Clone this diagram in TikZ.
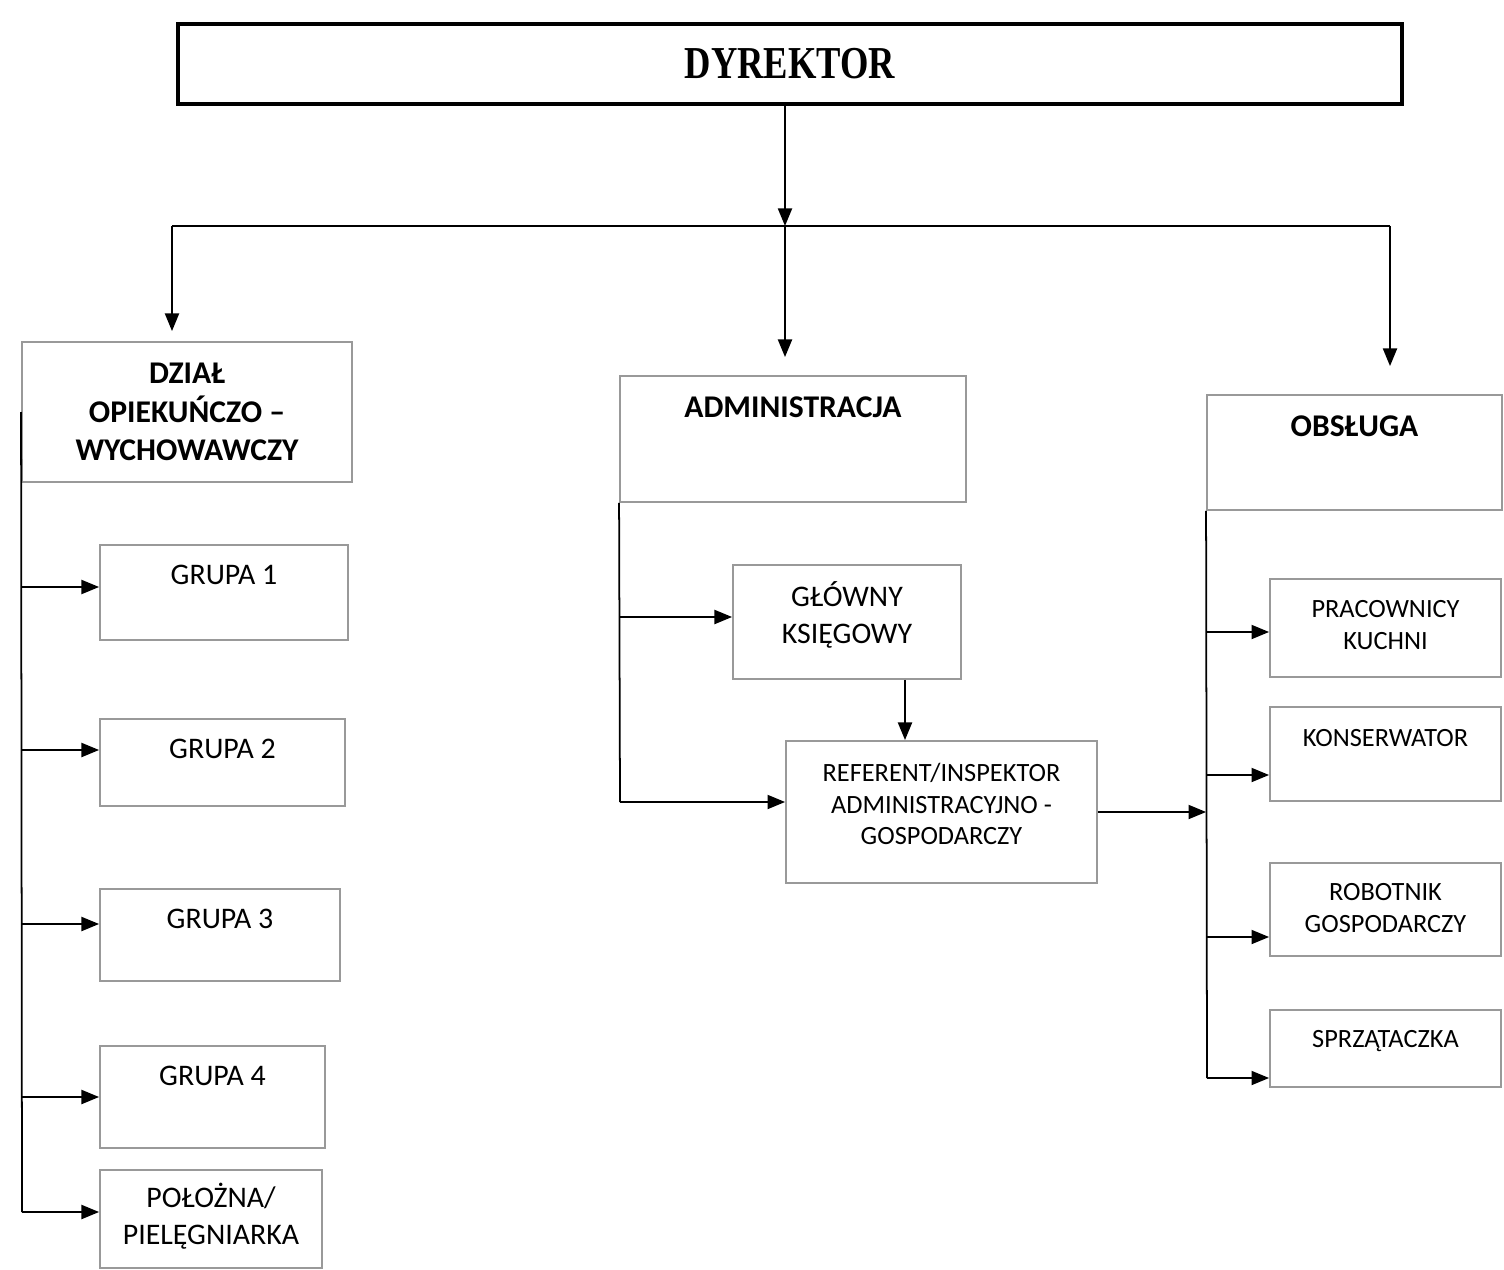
\documentclass[tikz,border=0pt]{standalone}
\usepackage{fontspec}
\setmainfont{Carlito}
\newfontfamily\serifbold{Liberation Serif}
\usepackage{graphicx}
\usepackage{tikz}
\usetikzlibrary{positioning,arrows.meta,calc}

\tikzset{
  box/.style={draw=black!40, line width=1.1pt, rectangle, inner sep=0pt},
  head/.style={font=\fontsize{18}{22}\selectfont\bfseries, align=center},
  lab/.style={font=\fontsize{15}{18}\selectfont, align=center, inner sep=0pt},
  labL/.style={font=\fontsize{17}{21}\selectfont, align=center, inner sep=0pt},
  arr/.style={-{Triangle[length=10pt,width=8pt]}, line width=1pt},
  link/.style={line width=1pt},
}

\begin{document}
\begin{tikzpicture}[x=0.02cm, y=-0.02cm]
  \useasboundingbox (0,0) rectangle (1504,1270);

  % director
  \node (dyr) [box, draw=black, line width=2pt, minimum width=24.48cm, minimum height=1.6cm, font=\serifbold\bfseries\fontsize{26}{30}\selectfont] at (790,64) {\scalebox{0.8}[1]{DYREKTOR}};

  % departments
  \node (dzial) [box, head, minimum width=6.6cm, minimum height=2.8cm] at (187,412) {DZIAŁ\\OPIEKUŃCZO –\\WYCHOWAWCZY};
  \node (admin) [box, minimum width=6.92cm, minimum height=2.52cm] at (793,439) {};
  \node (admint) [head, inner sep=0pt, below=0.42cm of admin.north] {ADMINISTRACJA};
  \node (obsl) [box, minimum width=5.9cm, minimum height=2.3cm] at (1354.5,452.5) {};
  \node (obslt) [head, inner sep=0pt, below=0.42cm of obsl.north] {OBSŁUGA};

  \coordinate (bus) at (785,226);
  \coordinate (busL) at (172,226);
  \coordinate (busR) at (1390,226);
  \draw[arr] (dyr.south -| bus) -- (bus);
  \draw[link] (busL) -- (busR);
  \draw[arr, shorten >=0.2cm] (busL) -- (busL |- dzial.north);
  \draw[arr, shorten >=0.36cm] (bus) -- (bus |- admin.north);
  \draw[arr, shorten >=0.56cm] (busR) -- (busR |- obsl.north);

  % left column
  \node (g1) [box, minimum width=4.96cm, minimum height=1.9cm] at (224,592.5) {};
  \node (g1t) [labL, below=0.42cm of g1.north] {GRUPA 1};
  \node (g2) [box, minimum width=4.9cm, minimum height=1.74cm] at (222.5,762.5) {};
  \node (g2t) [labL, below=0.42cm of g2.north] {GRUPA 2};
  \node (g3) [box, minimum width=4.8cm, minimum height=1.84cm] at (220,935) {};
  \node (g3t) [labL, below=0.42cm of g3.north] {GRUPA 3};
  \node (g4) [box, minimum width=4.5cm, minimum height=2.04cm] at (212.5,1097) {};
  \node (g4t) [labL, below=0.42cm of g4.north] {GRUPA 4};
  \node (pol) [box, minimum width=4.44cm, minimum height=1.96cm] at (211,1219) {};
  \node (polt) [labL, below=0.28cm of pol.north] {POŁOŻNA/\\PIELĘGNIARKA};

  \coordinate (l1) at (22,587);
  \coordinate (l2) at (22,750);
  \coordinate (l3) at (22,924);
  \coordinate (l4) at (22,1097);
  \coordinate (l5) at (22,1212);
  \draw[link] (dzial.west) -- (l5);
  \draw[arr] (l1) -- (l1 -| g1.west);
  \draw[arr] (l2) -- (l2 -| g2.west);
  \draw[arr] (l3) -- (l3 -| g3.west);
  \draw[arr] (l4) -- (l4 -| g4.west);
  \draw[arr] (l5) -- (l5 -| pol.west);

  % administration
  \node (gk) [box, minimum width=4.56cm, minimum height=2.28cm] at (847,622) {};
  \node (gkt) [labL, below=0.34cm of gk.north] {GŁÓWNY\\KSIĘGOWY};
  \node (ref) [box, minimum width=6.22cm, minimum height=2.84cm] at (941.5,812) {};
  \node (reft) [lab, below=0.46cm of ref.north] {REFERENT/INSPEKTOR\\ADMINISTRACYJNO -\\GOSPODARCZY};

  \coordinate (a1) at (620,617);
  \coordinate (a2) at (620,802);
  \draw[link] (admin.south west) -- (a2);
  \draw[arr] (a1) -- (a1 -| gk.west);
  \draw[arr] (a2) -- (a2 -| ref.west);
  \coordinate (gkout) at ($(gk.south)+(58,0)$);
  \draw[arr] (gkout) -- (gkout |- ref.north);
  \draw[arr] (ref.east) -- (ref.east -| obsl.west);

  % service staff
  \node (kuch) [box, minimum width=4.62cm, minimum height=1.96cm] at (1385.5,628) {};
  \node (kucht) [lab, below=0.44cm of kuch.north] {PRACOWNICY\\KUCHNI};
  \node (kons) [box, minimum width=4.62cm, minimum height=1.88cm] at (1385.5,754) {};
  \node (konst) [lab, below=0.46cm of kons.north] {KONSERWATOR};
  \node (rob) [box, minimum width=4.62cm, minimum height=1.86cm] at (1385.5,909.5) {};
  \node (robt) [lab, below=0.42cm of rob.north] {ROBOTNIK\\GOSPODARCZY};
  \node (sprz) [box, minimum width=4.62cm, minimum height=1.54cm] at (1385.5,1048.5) {};
  \node (sprzt) [lab, below=0.42cm of sprz.north] {SPRZĄTACZKA};

  \coordinate (r1) at (1207,632);
  \coordinate (r2) at (1207,775);
  \coordinate (r3) at (1207,937);
  \coordinate (r4) at (1207,1078);
  \draw[link] (obsl.south west) -- (r4);
  \draw[arr] (r1) -- (r1 -| kuch.west);
  \draw[arr] (r2) -- (r2 -| kons.west);
  \draw[arr] (r3) -- (r3 -| rob.west);
  \draw[arr] (r4) -- (r4 -| sprz.west);
\end{tikzpicture}
\end{document}
